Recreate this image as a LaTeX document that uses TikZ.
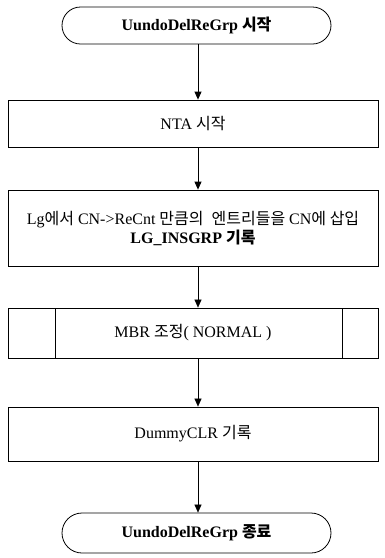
\documentclass[tikz,border=0pt]{standalone}
\usepackage{fontspec}
\setmainfont{Liberation Serif}
\newfontfamily\kr{Noto Sans CJK KR}
\usetikzlibrary{shapes.misc,arrows.meta}
\begin{document}
\begin{tikzpicture}[x=1pt,y=-1pt,
  term/.style={draw, line width=0.8pt, rounded rectangle, minimum width=269pt, minimum height=37pt, inner sep=0pt, font=\fontsize{16}{18}\selectfont\bfseries},
  proc/.style={draw, line width=0.8pt, rectangle, minimum width=370pt, inner sep=0pt, font=\fontsize{16}{19}\selectfont, align=center},
  flow/.style={line width=0.8pt, -{Triangle[length=8pt,width=7pt]}}
]
\useasboundingbox (0,0) rectangle (385,558);
\node[term] (start) at (196.5,25.5) {UundoDelReGrp {\kr 시작}};
\node[proc, minimum height=47pt] (nta) at (193,123.5) {NTA {\kr 시작}};
\node[proc, minimum height=76pt] (ins) at (193,228) {Lg{\kr 에서} CN-{\textgreater}ReCnt {\kr 만큼의\enspace 엔트리들을} CN{\kr 에 삽입}\\ \textbf{LG\_INSGRP {\kr 기록}}};
\node[proc, minimum height=50pt] (mbr) at (193,333) {MBR {\kr 조정}( NORMAL )};
\draw[line width=0.8pt] (55,308) coordinate (m1) -- (55,358) coordinate (m2);
\draw[line width=0.8pt] (342,308) coordinate (m3) -- (342,358) coordinate (m4);
\node[proc, minimum height=54pt] (dummy) at (193,434) {DummyCLR {\kr 기록}};
\node[term, minimum height=40pt] (end) at (196.5,533) {UundoDelReGrp {\kr 종료}};
\coordinate (ax) at (198,0);
\draw[flow] (ax |- start.south) -- (ax |- nta.north);
\draw[flow] (ax |- nta.south) -- (ax |- ins.north);
\draw[flow, line width=0.5pt] (ax |- ins.south) -- (ax |- mbr.north);
\draw[flow, line width=0.5pt] (ax |- mbr.south) -- (ax |- dummy.north);
\draw[flow, line width=0.5pt] (ax |- dummy.south) -- (ax |- end.north);
\end{tikzpicture}
\end{document}
